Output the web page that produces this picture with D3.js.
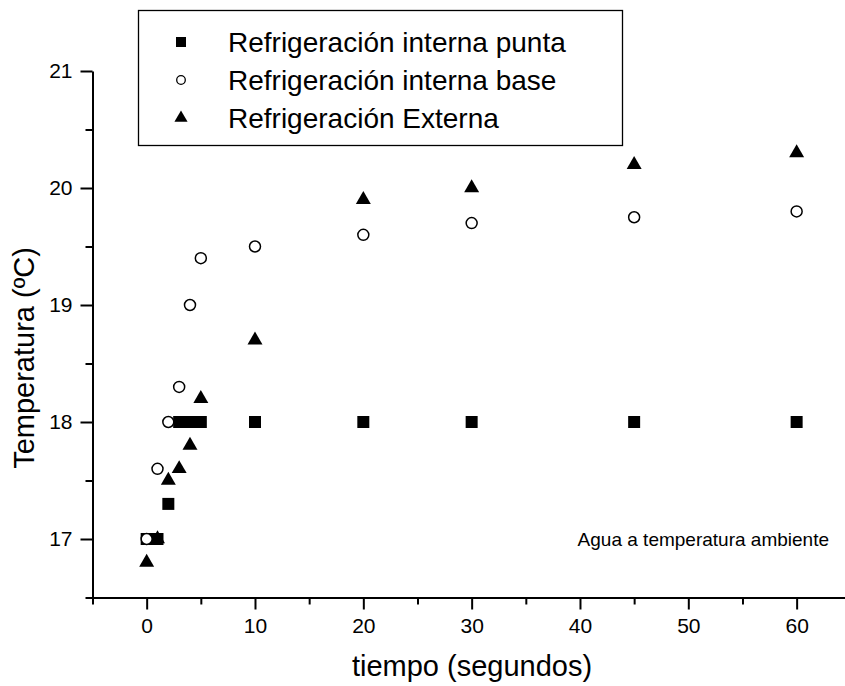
<!DOCTYPE html>
<html><head><meta charset="utf-8">
<script src="https://cdn.jsdelivr.net/npm/d3@7"></script>
<style>html,body{margin:0;padding:0;background:#fff;}svg{display:block;font-family:"Liberation Sans",Arial,sans-serif;}</style>
</head><body>
<svg id="c" width="845" height="686"></svg>
<script>
const tiempo = [0, 1, 2, 3, 4, 5, 10, 20, 30, 45, 60];
const internaPunta = [17, 17, 17.3, 18, 18, 18, 18, 18, 18, 18, 18];
const internaBase = [17, 17.6, 18, 18.3, 19, 19.4, 19.5, 19.6, 19.7, 19.75, 19.8];
const externa = [16.8, 17, 17.5, 17.6, 17.8, 18.2, 18.7, 19.9, 20, 20.2, 20.3];
const seriesNames = ["Refrigeración interna punta", "Refrigeración interna base", "Refrigeración Externa"];
const xMajor = [0, 10, 20, 30, 40, 50, 60];
const xMinor = [-5, 5, 15, 25, 35, 45, 55];
const yMajor = [17, 18, 19, 20, 21];
const yMinor = [16.5, 17.5, 18.5, 19.5, 20.5];

const svg = d3.select("#c");
const x = d3.scaleLinear().domain([-5, 65]).range([92.5, 850.8]);
const y = d3.scaleLinear().domain([16.5, 21]).range([597.5, 71]);

// axes
svg.append("g").attr("transform", `translate(0,${y(16.5)})`)
  .call(d3.axisBottom(x).tickValues(xMajor).tickSize(12).tickSizeOuter(0).tickPadding(9).tickFormat(d3.format("d")));
svg.append("g").attr("transform", `translate(0,${y(16.5)})`)
  .call(d3.axisBottom(x).tickValues(xMinor).tickSize(7).tickSizeOuter(0).tickFormat(""))
  .select(".domain").remove();
svg.append("g").attr("transform", `translate(${x(-5)},0)`)
  .call(d3.axisLeft(y).tickValues(yMajor).tickSize(12).tickSizeOuter(0).tickPadding(8).tickFormat(d3.format("d")));
svg.append("g").attr("transform", `translate(${x(-5)},0)`)
  .call(d3.axisLeft(y).tickValues(yMinor).tickSize(7).tickSizeOuter(0).tickFormat(""))
  .select(".domain").remove();
svg.selectAll(".domain").attr("stroke", "#000").attr("stroke-width", 2);
svg.selectAll(".tick line").attr("stroke", "#000").attr("stroke-width", 2);
svg.selectAll(".tick text").attr("fill", "#000").style("font-size", "21px").style("font-family", "Liberation Sans, Arial, sans-serif");

// axis titles
svg.append("text").attr("x", 472).attr("y", 676).attr("text-anchor", "middle")
  .style("font-size", "29px").text("tiempo (segundos)");
svg.append("text").attr("transform", `translate(34,358) rotate(-90)`).attr("text-anchor", "middle")
  .style("font-size", "29px").text("Temperatura (ºC)");

// markers
const sq = d3.symbol().type(d3.symbolSquare).size(144)();
const tri = d3.symbol().type(d3.symbolTriangle).size(97)();
const plot = svg.append("g");
plot.selectAll(".s").data(tiempo.map((t, i) => [t, internaPunta[i]])).join("path")
  .attr("d", sq).attr("transform", d => `translate(${x(d[0])},${y(d[1])})`).attr("fill", "#000");
plot.selectAll(".c").data(tiempo.map((t, i) => [t, internaBase[i]])).join("circle")
  .attr("cx", d => x(d[0])).attr("cy", d => y(d[1])).attr("r", 5.5)
  .attr("fill", "#fff").attr("stroke", "#000").attr("stroke-width", 1.5);
plot.selectAll(".t").data(tiempo.map((t, i) => [t, externa[i]])).join("path")
  .attr("d", tri).attr("transform", d => `translate(${x(d[0])},${y(d[1])})`).attr("fill", "#000");

// legend
const lg = svg.append("g");
lg.append("rect").attr("x", 138.5).attr("y", 10.5).attr("width", 484).attr("height", 135)
  .attr("fill", "#fff").attr("stroke", "#000").attr("stroke-width", 1.3);
const rows = [42, 80, 118];
lg.append("path").attr("d", d3.symbol().type(d3.symbolSquare).size(100)())
  .attr("transform", `translate(181,${rows[0]})`).attr("fill", "#000");
lg.append("circle").attr("cx", 181).attr("cy", rows[1]).attr("r", 4.3)
  .attr("fill", "#fff").attr("stroke", "#000").attr("stroke-width", 1.3);
lg.append("path").attr("d", d3.symbol().type(d3.symbolTriangle).size(75)())
  .attr("transform", `translate(181,${rows[2]})`).attr("fill", "#000");
seriesNames.forEach((n, i) => {
  lg.append("text").attr("x", 228).attr("y", rows[i]).attr("dy", "0.35em")
    .style("font-size", "28px").text(n);
});

svg.append("text").attr("x", 829).attr("y", 539).attr("dy", "0.35em").attr("text-anchor", "end")
  .style("font-size", "19px").text("Agua a temperatura ambiente");
</script>
</body></html>
